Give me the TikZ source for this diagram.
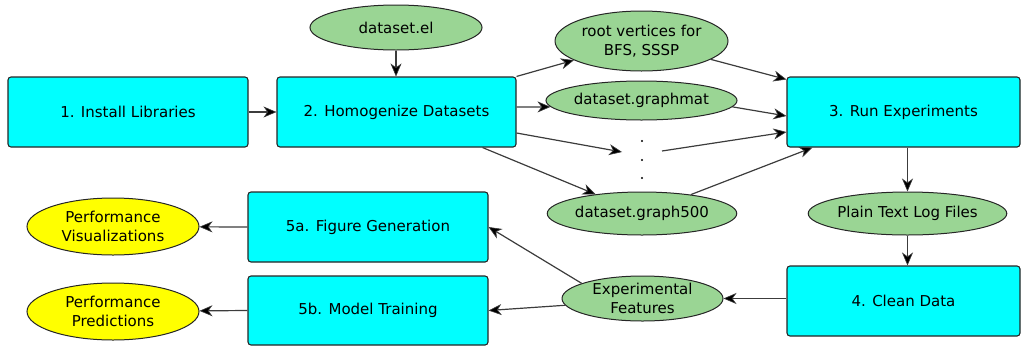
\documentclass[tikz,border=0pt]{standalone}
\usepackage{fontspec}
\setmainfont{DejaVu Sans}
\usetikzlibrary{shapes.geometric,arrows.meta}
\definecolor{boxcyan}{RGB}{0,255,255}
\definecolor{ellgreen}{RGB}{154,213,148}
\definecolor{ellyellow}{RGB}{255,255,0}
\definecolor{linegray}{RGB}{60,60,60}
\begin{document}
\begin{tikzpicture}[x=1pt,y=-1pt,
  every node/.style={font=\fontsize{15}{18.5}\selectfont, inner sep=0pt, align=center},
  stepbox/.style={draw=black!85, line width=1.1pt, fill=boxcyan, rounded corners=3pt, minimum width=240pt, minimum height=70pt},
  greenell/.style={ellipse, draw=black!85, line width=1pt, fill=ellgreen, minimum width=172pt, minimum height=45pt},
  yellowell/.style={ellipse, draw=black!85, line width=1pt, fill=ellyellow, minimum width=172pt, minimum height=57pt},
  conn/.style={draw=linegray, line width=1.2pt, -{Stealth[length=13pt,width=11pt,inset=4pt,fill=black,line width=0.6pt]}}
]
\useasboundingbox (0,0) rectangle (1022,346);
% boxes
\node[stepbox] (b1) at (128,112) {1. Install Libraries};
\node[stepbox, minimum width=239pt] (b2) at (396.5,112) {2. Homogenize Datasets};
\node[stepbox, minimum width=233pt] (b3) at (903.5,112) {3. Run Experiments};
\node[stepbox, minimum width=233pt] (b4) at (903.5,301) {4. Clean Data};
\node[stepbox] (b5a) at (368,227) {5a. Figure Generation};
\node[stepbox, minimum height=69pt] (b5b) at (368,310.5) {5b. Model Training};
% ellipses
\node[greenell] (el) at (396,27.5) {dataset.el};
\node[greenell, minimum width=173pt, minimum height=60pt] (root) at (641.5,41) {root vertices for\\BFS, SSSP};
\node[greenell, minimum width=173pt, minimum height=39pt] (gm) at (641.5,100.5) {dataset.graphmat};
\node[greenell, minimum height=43pt] (g500) at (642,213.5) {dataset.graph500};
\node[greenell, minimum width=191pt, minimum height=43pt] (plain) at (907.5,213.5) {Plain Text Log Files};
\node[greenell, minimum width=161pt] (exp) at (642.5,298.5) {Experimental\\Features};
\node[yellowell] (pv) at (113,226.5) {Performance\\Visualizations};
\node[yellowell] (pp) at (113,311.5) {Performance\\Predictions};
% dots
\fill (642,141) circle (1.1pt);
\fill (642,160) circle (1.1pt);
\fill (642,178) circle (1.1pt);
\coordinate (dl) at (622,152);
\coordinate (dr) at (662,151);
% connectors
\draw[conn] (b1) -- (b2);
\draw[conn] (el) -- (el |- b2.north);
\draw[conn] (b2.north east) -- (root);
\draw[conn] ([yshift=5pt]b2.east) -- (gm.184);
\draw[conn] ([yshift=-21pt]b2.east) -- (dl);
\draw[conn] ([xshift=-34pt]b2.south east) -- (g500);
\draw[conn] (root) -- ([yshift=-3pt]b3.north west);
\draw[conn] (gm.356) -- ([yshift=-4pt]b3.west);
\draw[conn] (dr) -- ([yshift=-20pt]b3.west);
\draw[conn] (g500) -- ([xshift=26pt]b3.south west);
\draw[conn] (plain.north |- b3.south) -- (plain.north);
\draw[conn] (plain.south) -- (plain.south |- b4.north);
\draw[conn] (b4.west |- exp) -- (exp.east);
\draw[conn] (exp.166) -- (b5a.east);
\draw[conn] (exp.185) -- (b5b.east);
\draw[conn] (b5a.west) -- (pv);
\draw[conn] (b5b.west) -- (pp);
\end{tikzpicture}
\end{document}
